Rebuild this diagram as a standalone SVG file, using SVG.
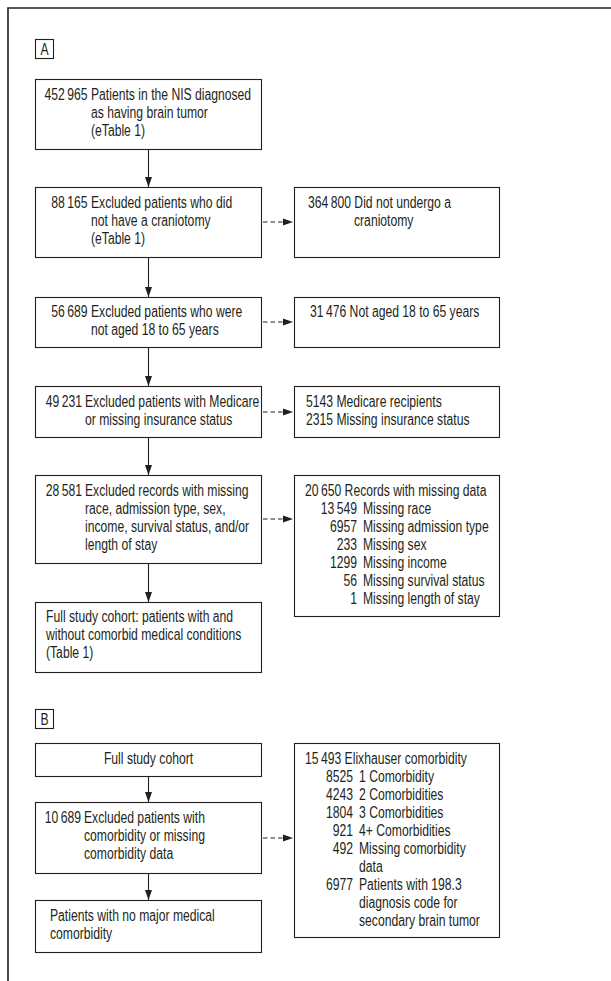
<svg xmlns="http://www.w3.org/2000/svg" width="611" height="981" viewBox="0 0 611 981">
<style>
.frame{fill:none;stroke:#231f20;stroke-width:1.6}
.box{fill:#fff;stroke:#231f20;stroke-width:1.1}
.t{font-family:"Liberation Sans",Arial,sans-serif;font-size:16px;fill:#231f20}
.e{text-anchor:end}
.m{text-anchor:middle}
.solid{fill:none;stroke:#231f20;stroke-width:1.1;marker-end:url(#ah)}
.dash{fill:none;stroke:#231f20;stroke-width:1.1;stroke-dasharray:4.5,3;marker-end:url(#ah)}
</style>
<defs>
<marker id="ah" markerUnits="userSpaceOnUse" markerWidth="10" markerHeight="8" refX="10" refY="4" orient="auto">
<path d="M0,0.5 L10,4 L0,7.5 z" fill="#231f20"/>
</marker>
</defs>
<rect width="611" height="981" fill="#fff"/>
<path class="frame" d="M8,981 V8 H611"/>

<g id="labelA"><rect class="box" x="35.5" y="39.5" width="18" height="19"/><text class="t m" transform="translate(44.5,55) scale(.76,1)">A</text></g>

<g id="n1"><rect class="box" x="35.5" y="79.5" width="226" height="70"/>
<text class="t e" transform="translate(87.5,100) scale(.76,1)">452&#8201;965</text>
<text class="t" transform="translate(91,100) scale(.76,1)">Patients in the NIS diagnosed</text>
<text class="t" transform="translate(91,118) scale(.76,1)">as having brain tumor</text>
<text class="t" transform="translate(91,136) scale(.76,1)">(eTable 1)</text></g>

<g id="n2"><rect class="box" x="35.5" y="187.5" width="226" height="70"/>
<text class="t e" transform="translate(87.5,208) scale(.76,1)">88&#8201;165</text>
<text class="t" transform="translate(91,208) scale(.76,1)">Excluded patients who did</text>
<text class="t" transform="translate(91,226) scale(.76,1)">not have a craniotomy</text>
<text class="t" transform="translate(91,244) scale(.76,1)">(eTable 1)</text></g>

<g id="r2"><rect class="box" x="294.5" y="187.5" width="205" height="70"/>
<text class="t" transform="translate(308,208) scale(.76,1)">364&#8201;800 Did not undergo a</text>
<text class="t" transform="translate(354,226) scale(.76,1)">craniotomy</text></g>

<g id="n3"><rect class="box" x="35.5" y="297.5" width="226" height="50"/>
<text class="t e" transform="translate(87.5,317) scale(.76,1)">56&#8201;689</text>
<text class="t" transform="translate(91,317) scale(.76,1)">Excluded patients who were</text>
<text class="t" transform="translate(91,335) scale(.76,1)">not aged 18 to 65 years</text></g>

<g id="r3"><rect class="box" x="294.5" y="297.5" width="205" height="50"/>
<text class="t" transform="translate(310,317) scale(.76,1)">31&#8201;476 Not aged 18 to 65 years</text></g>

<g id="n4"><rect class="box" x="35.5" y="386.5" width="226" height="51"/>
<text class="t e" transform="translate(82,407) scale(.76,1)">49&#8201;231</text>
<text class="t" transform="translate(85,407) scale(.76,1)">Excluded patients with Medicare</text>
<text class="t" transform="translate(85,425) scale(.76,1)">or missing insurance status</text></g>

<g id="r4"><rect class="box" x="294.5" y="386.5" width="205" height="51"/>
<text class="t" transform="translate(306,407) scale(.76,1)">5143 Medicare recipients</text>
<text class="t" transform="translate(306,425) scale(.76,1)">2315 Missing insurance status</text></g>

<g id="n5"><rect class="box" x="35.5" y="475.5" width="226" height="88"/>
<text class="t e" transform="translate(82,496) scale(.76,1)">28&#8201;581</text>
<text class="t" transform="translate(85,496) scale(.76,1)">Excluded records with missing</text>
<text class="t" transform="translate(85,514) scale(.76,1)">race, admission type, sex,</text>
<text class="t" transform="translate(85,532) scale(.76,1)">income, survival status, and/or</text>
<text class="t" transform="translate(85,550) scale(.76,1)">length of stay</text></g>

<g id="r5"><rect class="box" x="294.5" y="475.5" width="205" height="141"/>
<text class="t" transform="translate(305,496) scale(.76,1)">20&#8201;650 Records with missing data</text>
<text class="t e" transform="translate(357,514) scale(.76,1)">13&#8201;549</text>
<text class="t" transform="translate(363,514) scale(.76,1)">Missing race</text>
<text class="t e" transform="translate(357,532) scale(.76,1)">6957</text>
<text class="t" transform="translate(363,532) scale(.76,1)">Missing admission type</text>
<text class="t e" transform="translate(357,550) scale(.76,1)">233</text>
<text class="t" transform="translate(363,550) scale(.76,1)">Missing sex</text>
<text class="t e" transform="translate(357,568) scale(.76,1)">1299</text>
<text class="t" transform="translate(363,568) scale(.76,1)">Missing income</text>
<text class="t e" transform="translate(357,586) scale(.76,1)">56</text>
<text class="t" transform="translate(363,586) scale(.76,1)">Missing survival status</text>
<text class="t e" transform="translate(357,604) scale(.76,1)">1</text>
<text class="t" transform="translate(363,604) scale(.76,1)">Missing length of stay</text></g>

<g id="n6"><rect class="box" x="35.5" y="602.5" width="226" height="70"/>
<text class="t" transform="translate(46,622) scale(.76,1)">Full study cohort: patients with and</text>
<text class="t" transform="translate(46,640) scale(.76,1)">without comorbid medical conditions</text>
<text class="t" transform="translate(46,658) scale(.76,1)">(Table 1)</text></g>

<g id="labelB"><rect class="box" x="35.5" y="709.5" width="18" height="19"/><text class="t m" transform="translate(44.5,725) scale(.76,1)">B</text></g>

<g id="n7"><rect class="box" x="35.5" y="743.5" width="226" height="33"/>
<text class="t m" transform="translate(148.5,764) scale(.76,1)">Full study cohort</text></g>

<g id="r7"><rect class="box" x="294.5" y="743.5" width="205" height="194"/>
<text class="t" transform="translate(305,764) scale(.76,1)">15&#8201;493 Elixhauser comorbidity</text>
<text class="t e" transform="translate(353,782) scale(.76,1)">8525</text>
<text class="t" transform="translate(359,782) scale(.76,1)">1 Comorbidity</text>
<text class="t e" transform="translate(353,800) scale(.76,1)">4243</text>
<text class="t" transform="translate(359,800) scale(.76,1)">2 Comorbidities</text>
<text class="t e" transform="translate(353,818) scale(.76,1)">1804</text>
<text class="t" transform="translate(359,818) scale(.76,1)">3 Comorbidities</text>
<text class="t e" transform="translate(353,836) scale(.76,1)">921</text>
<text class="t" transform="translate(359,836) scale(.76,1)">4+ Comorbidities</text>
<text class="t e" transform="translate(353,854) scale(.76,1)">492</text>
<text class="t" transform="translate(359,854) scale(.76,1)">Missing comorbidity</text>
<text class="t" transform="translate(359,872) scale(.76,1)">data</text>
<text class="t e" transform="translate(353,890) scale(.76,1)">6977</text>
<text class="t" transform="translate(359,890) scale(.76,1)">Patients with 198.3</text>
<text class="t" transform="translate(359,908) scale(.76,1)">diagnosis code for</text>
<text class="t" transform="translate(359,926) scale(.76,1)">secondary brain tumor</text></g>

<g id="n8"><rect class="box" x="35.5" y="802.5" width="226" height="71"/>
<text class="t e" transform="translate(81,823) scale(.76,1)">10&#8201;689</text>
<text class="t" transform="translate(84,823) scale(.76,1)">Excluded patients with</text>
<text class="t" transform="translate(84,841) scale(.76,1)">comorbidity or missing</text>
<text class="t" transform="translate(84,859) scale(.76,1)">comorbidity data</text></g>

<g id="n9"><rect class="box" x="35.5" y="900.5" width="226" height="52"/>
<text class="t" transform="translate(50,921) scale(.76,1)">Patients with no major medical</text>
<text class="t" transform="translate(50,939) scale(.76,1)">comorbidity</text></g>

<g id="connectors">
<path class="solid" d="M148.5,150 V187"/>
<path class="solid" d="M148.5,258 V297"/>
<path class="solid" d="M148.5,348 V386"/>
<path class="solid" d="M148.5,438 V475"/>
<path class="solid" d="M148.5,564 V602"/>
<path class="solid" d="M148.5,777 V802"/>
<path class="solid" d="M148.5,874 V900"/>
<path class="dash" d="M263,222 H293"/>
<path class="dash" d="M263,322 H293"/>
<path class="dash" d="M263,412 H293"/>
<path class="dash" d="M263,519 H293"/>
<path class="dash" d="M263,838 H293"/>
</g>
</svg>
